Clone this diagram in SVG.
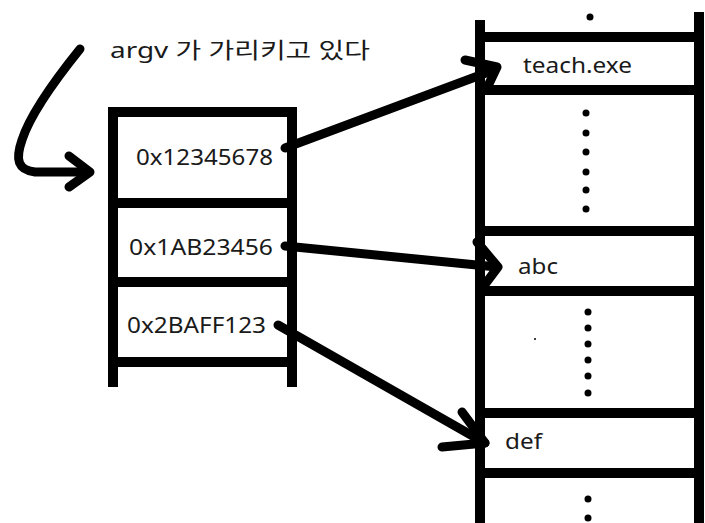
<svg xmlns="http://www.w3.org/2000/svg" width="705" height="523" viewBox="0 0 705 523">
<style>
.bar{stroke:#000;stroke-width:10;fill:none;stroke-linecap:butt}
.conn{stroke:#000;stroke-width:9;fill:none;stroke-linecap:round;stroke-linejoin:round}
.t{font-family:"Noto Sans","Noto Sans CJK KR",sans-serif;font-size:22px;fill:#1a1a1a}
.dot{fill:#000}
</style>
<rect width="705" height="523" fill="#fff"/>
<g id="argv-label">
<text class="t" x="110" y="58" textLength="260" lengthAdjust="spacingAndGlyphs">argv 가 가리키고 있다</text>
</g>
<g id="pointer-array">
<line class="bar" x1="113" y1="107" x2="113" y2="387"/>
<line class="bar" x1="292" y1="107" x2="292" y2="387"/>
<line class="bar" x1="108" y1="112" x2="297" y2="112"/>
<line class="bar" x1="108" y1="203" x2="297" y2="203"/>
<line class="bar" x1="108" y1="282" x2="297" y2="282"/>
<line class="bar" x1="108" y1="362" x2="297" y2="362"/>
<text class="t" x="136" y="165" textLength="137" lengthAdjust="spacingAndGlyphs">0x12345678</text>
<text class="t" x="129" y="255" textLength="144" lengthAdjust="spacingAndGlyphs">0x1AB23456</text>
<text class="t" x="127" y="333" textLength="139" lengthAdjust="spacingAndGlyphs">0x2BAFF123</text>
</g>
<g id="memory-stack">
<line class="bar" x1="480" y1="20" x2="480" y2="523"/>
<line class="bar" x1="699" y1="12" x2="699" y2="523"/>
<line class="bar" x1="480" y1="37" x2="699" y2="37"/>
<line class="bar" x1="480" y1="90" x2="699" y2="90"/>
<line class="bar" x1="480" y1="231" x2="699" y2="231"/>
<line class="bar" x1="480" y1="291" x2="699" y2="291"/>
<line class="bar" x1="480" y1="413" x2="699" y2="413"/>
<line class="bar" x1="480" y1="473" x2="699" y2="473"/>
<circle class="dot" cx="590" cy="17" r="3.5"/>
<g class="dot">
<circle cx="586" cy="113" r="3.5"/><circle cx="586" cy="133" r="3.5"/><circle cx="586" cy="152" r="3.5"/>
<circle cx="586" cy="172" r="3.5"/><circle cx="586" cy="190" r="3.5"/><circle cx="586" cy="209" r="3.5"/>
<circle cx="588" cy="312" r="3.5"/><circle cx="588" cy="328" r="3.5"/><circle cx="588" cy="344" r="3.5"/>
<circle cx="588" cy="360" r="3.5"/><circle cx="588" cy="376" r="3.5"/><circle cx="588" cy="393" r="3.5"/>
<circle cx="588" cy="499" r="3.5"/><circle cx="588" cy="518" r="3.5"/>
<circle cx="535" cy="339" r="1"/>
</g>
<text class="t" x="523" y="73" textLength="109" lengthAdjust="spacingAndGlyphs">teach.exe</text>
<text class="t" x="518" y="274" textLength="40" lengthAdjust="spacingAndGlyphs">abc</text>
<text class="t" x="505" y="449" textLength="37" lengthAdjust="spacingAndGlyphs">def</text>
</g>
<g id="connectors">
<path class="conn" d="M80,49 C55,80 30,115 22,140 C15,160 18,170 35,172 L88,172"/>
<path class="conn" d="M69,156 L90,172 L69,187"/>
<path class="conn" d="M285,148 L494,70"/>
<path class="conn" d="M465,60 L497,67 L488,86"/>
<path class="conn" d="M285,246 L497,267"/>
<path class="conn" d="M477,242 L498,267 L486,283"/>
<path class="conn" d="M278,325 L485,443"/>
<path class="conn" d="M462,412 L485,443 L442,447"/>
</g>
</svg>
